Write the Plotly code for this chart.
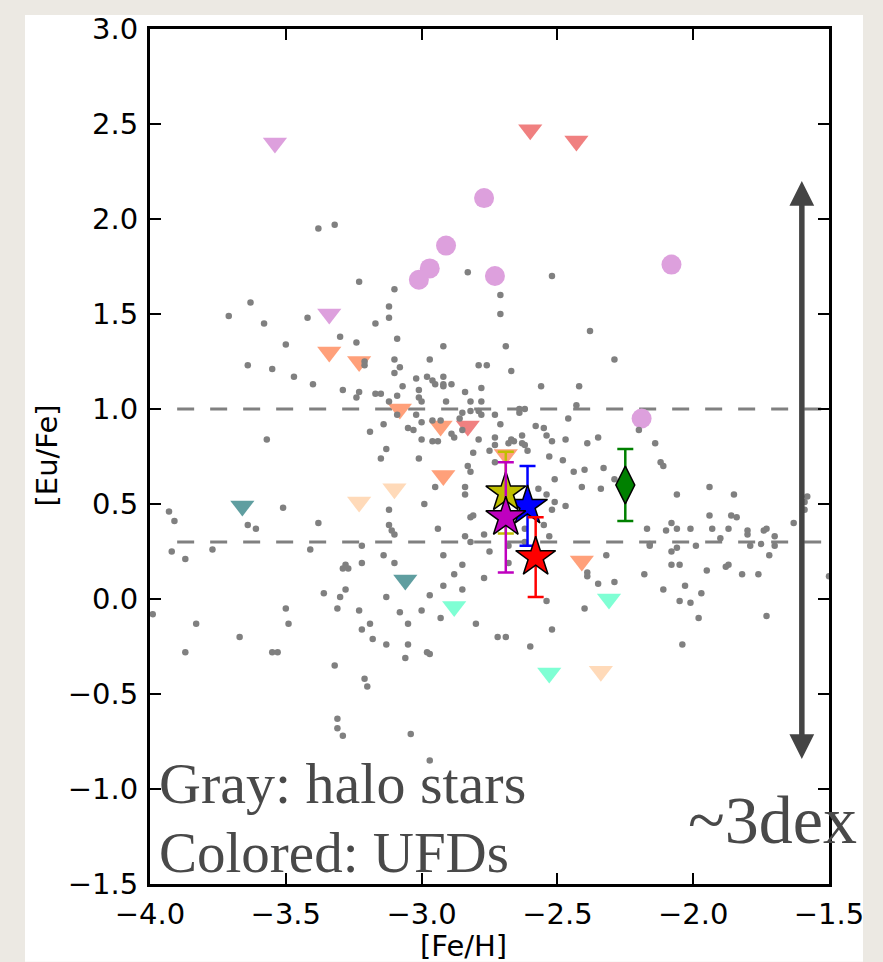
import plotly.graph_objects as go

# ---------------- data ----------------
# halo stars (gray)
halo_feh = [
    -3.38, -3.32, -3.23, -3.10, -2.83, -3.63, -3.71, -3.58, -3.42, -3.12,
    -3.12, -3.17, -3.30, -3.50, -3.24, -3.09, -2.92, -3.64, -3.55, -3.47,
    -3.40, -3.21, -3.21, -3.10, -3.08, -3.10, -2.97, -3.29, -3.23, -3.24,
    -3.17, -3.15, -3.09, -3.07, -3.02, -2.98, -2.96, -2.95, -2.92, -2.92,
    -2.92, -2.89, -3.01, -3.01, -3.00, -3.12, -2.91, -2.84, -2.82, -2.78,
    -2.78, -2.79, -2.76, -3.09, -3.02, -3.00, -2.96, -2.93, -2.85, -2.82,
    -2.79, -2.78, -2.86, -2.85, -3.14, -3.19, -3.05, -3.03, -2.89, -2.88,
    -3.00, -2.96, -2.94, -2.79, -3.57, -3.13, -3.15, -3.01, -2.81, -2.75,
    -2.83, -2.82, -2.95, -2.84,
    -2.52, -2.71, -2.71, -2.38, -2.69, -2.67, -2.29, -2.56, -2.42, -2.43,
    -2.64, -2.62, -2.64, -2.73, -2.46, -2.71, -2.58, -2.55, -2.54, -2.52,
    -2.47, -2.39, -2.35, -2.63, -2.63, -2.62, -2.61, -2.67, -2.66, -2.73,
    -2.73, -2.68, -2.73, -2.53, -2.48, -2.44, -2.40, -2.33, -2.51, -2.41,
    -2.34, -2.20, -2.14, -2.12, -2.11, -1.94, -2.29, -2.57,
    -3.93, -3.91, -3.92, -3.87, -3.77, -3.64, -3.61, -3.51, -3.38, -3.41,
    -3.99, -3.83, -3.87, -3.67, -3.50, -3.49, -3.55, -3.53, -3.36, -3.30,
    -3.28, -3.29, -3.28, -3.27, -3.31, -3.22, -3.22, -3.23, -3.22, -3.19,
    -3.18, -3.13, -3.13, -3.14, -3.10, -3.12, -3.12, -3.11, -3.10, -3.08,
    -3.05, -3.05, -3.06, -3.00, -2.97, -2.98, -2.97, -2.99, -2.94, -2.92,
    -2.92, -2.88, -2.85, -2.85, -2.93, -2.80, -2.84, -2.82, -2.81, -2.84,
    -2.82, -2.77, -2.77, -2.75, -3.32, -3.21, -3.20, -3.31, -3.31, -3.29,
    -3.04, -2.97,
    -2.51, -2.47, -2.52, -2.54, -2.55, -2.53, -2.62, -2.62, -2.68, -2.68,
    -2.32, -2.39, -2.39, -2.35, -2.29, -2.54, -2.40, -2.52, -2.72, -2.69,
    -2.60, -2.17, -2.10, -2.08, -2.06, -2.01, -2.06, -1.94, -1.93, -1.90,
    -1.87, -1.86, -1.84, -1.85, -1.80, -1.80, -1.74, -1.73, -1.70, -1.70,
    -1.72, -1.75, -1.79, -1.63, -2.16, -2.16, -2.08, -2.06, -1.99, -2.08,
    -2.05, -2.18, -1.95, -1.88, -1.87, -1.82, -1.76, -2.11, -2.03, -1.97,
    -2.05, -2.01, -1.98, -2.04, -1.73, -1.59, -1.58, -1.59, -1.50,
]
halo_eufe = [
    1.95, 1.97, 1.67, 1.63, 1.72, 1.56, 1.49, 1.45, 1.48, 1.54,
    1.48, 1.45, 1.38, 1.34, 1.35, 1.37, 1.33, 1.23, 1.21, 1.17,
    1.13, 1.25, 1.23, 1.26, 1.22, 1.19, 1.26, 1.10, 1.09, 1.06,
    1.08, 1.08, 1.07, 1.12, 1.16, 1.17, 1.15, 1.13, 1.17, 1.13,
    1.12, 1.13, 1.10, 1.06, 1.04, 1.04, 1.04, 1.09, 1.04, 1.11,
    1.04, 1.23, 1.23, 0.97, 0.97, 0.93, 0.94, 0.94, 0.98, 0.99,
    0.99, 0.97, 0.95, 0.89, 0.92, 0.88, 0.90, 0.89, 0.87, 0.85,
    0.84, 0.83, 0.83, 0.84, 0.84, 0.79, 0.74, 0.74, 0.77, 0.78,
    0.70, 0.67, 0.59, 0.59,
    1.70, 1.60, 1.50, 1.41, 1.33, 1.20, 1.26, 1.12, 1.12, 1.02,
    1.00, 1.00, 0.98, 0.97, 0.95, 0.92, 0.91, 0.90, 0.86, 0.83,
    0.84, 0.82, 0.85, 0.86, 0.82, 0.81, 0.78, 0.84, 0.83, 0.85,
    0.81, 0.82, 0.72, 0.75, 0.73, 0.67, 0.68, 0.69, 0.63, 0.59,
    0.58, 0.89, 0.82, 0.72, 0.70, 0.59, 0.63, 0.58,
    0.46, 0.41, 0.25, 0.21, 0.26, 0.39, 0.37, 0.48, 0.40, 0.26,
    -0.08, -0.13, -0.28, -0.20, -0.05, -0.13, -0.28, -0.28, 0.03, 0.01,
    0.05, 0.16, 0.18, 0.16, -0.05, 0.28, 0.19, -0.06, -0.16, -0.13,
    -0.21, 0.01, -0.24, 0.23, 0.19, 0.47, 0.39, 0.36, 0.34, -0.07,
    -0.13, -0.24, -0.31, -0.06, 0.02, -0.28, -0.29, 0.50, 0.37, 0.23,
    0.07, 0.13, 0.18, 0.05, -0.10, -0.13, 0.55, 0.43, 0.44, 0.33,
    0.30, 0.34, 0.11, 0.25, -0.35, -0.42, -0.46, -0.63, -0.68, -0.72,
    -0.71, -0.85,
    0.51, 0.49, 0.47, 0.55, 0.39, 0.33, 0.37, 0.30, 0.28, 0.19,
    0.23, 0.14, 0.12, 0.08, 0.09, -0.01, -0.05, -0.16, -0.20, -0.20,
    -0.25, 0.37, 0.36, 0.40, 0.37, 0.37, 0.55, 0.44, 0.37, 0.32,
    0.37, 0.44, 0.43, 0.55, 0.36, 0.34, 0.36, 0.37, 0.33, 0.28,
    0.23, 0.29, 0.28, 0.40, 0.29, 0.28, 0.25, 0.27, 0.28, 0.18,
    0.18, 0.13, 0.15, 0.17, 0.18, 0.13, 0.13, 0.05, 0.07, 0.03,
    -0.01, -0.02, -0.10, -0.24, -0.09, 0.51, 0.54, 0.47, 0.12,
]
n_halo = min(len(halo_feh), len(halo_eufe))

# UFD detections (plum circles)
ufd_det_feh = [-2.77, -2.91, -2.97, -3.01, -2.73, -2.08, -2.19]
ufd_det_eufe = [2.11, 1.86, 1.74, 1.68, 1.70, 1.76, 0.95]

# UFD upper limits (down triangles), grouped by galaxy colour
lim_plum_feh, lim_plum_eufe = [-3.54, -3.34], [2.40, 1.50]
lim_coral_feh, lim_coral_eufe = [-2.60, -2.43, -2.83], [2.47, 2.41, 0.91]
lim_salmon_feh = [-3.34, -3.23, -3.08, -2.93, -2.92, -2.69, -2.41]
lim_salmon_eufe = [1.30, 1.25, 1.00, 0.91, 0.65, 0.76, 0.20]
lim_peach_feh, lim_peach_eufe = [-3.23, -3.10, -2.34], [0.51, 0.58, -0.38]
lim_cadet_feh, lim_cadet_eufe = [-3.66, -3.06], [0.49, 0.10]
lim_aqua_feh, lim_aqua_eufe = [-2.88, -2.53, -2.31], [-0.04, -0.39, 0.00]

# highlighted stars with error bars (drawing order: blue, red, yellow, magenta)
star_names = ["blue", "red", "yellow", "magenta"]
star_feh = [-2.61, -2.58, -2.69, -2.69]
star_eufe = [0.49, 0.22, 0.56, 0.43]
star_err = [0.21, 0.21, 0.215, 0.29]
star_colors = ["#0000FF", "#FF0000", "#BFBF00", "#BF00BF"]

diamond_feh, diamond_eufe, diamond_err = [-2.25], [0.60], [0.19]

ref_levels = [1.0, 0.3]
ref_start, ref_end = -3.9, -1.5

arrow_x, arrow_top, arrow_bottom = -1.60, 2.20, -0.85

x_ticks = [-4.0, -3.5, -3.0, -2.5, -2.0, -1.5]
y_ticks = [-1.5, -1.0, -0.5, 0.0, 0.5, 1.0, 1.5, 2.0, 2.5, 3.0]

# ---------------- figure ----------------
fig = go.Figure()

for lvl in ref_levels:
    fig.add_trace(go.Scatter(
        x=[ref_start, ref_end], y=[lvl, lvl], mode="lines",
        line=dict(color="#808080", width=3, dash="17px,16px"),
        hoverinfo="skip", showlegend=False))

fig.add_trace(go.Scatter(
    x=ufd_det_feh, y=ufd_det_eufe, mode="markers",
    marker=dict(symbol="circle", size=20, color="#DDA0DD", line=dict(width=0)),
    showlegend=False))

tri_groups = [
    (lim_plum_feh, lim_plum_eufe, "#DDA0DD"),
    (lim_coral_feh, lim_coral_eufe, "#F08080"),
    (lim_salmon_feh, lim_salmon_eufe, "#FFA07A"),
    (lim_peach_feh, lim_peach_eufe, "#FFDAB9"),
    (lim_cadet_feh, lim_cadet_eufe, "#5F9EA0"),
    (lim_aqua_feh, lim_aqua_eufe, "#7FFFD4"),
]
for fx, fy, col in tri_groups:
    fig.add_trace(go.Scatter(
        x=fx, y=fy, mode="markers",
        marker=dict(symbol="triangle-down", size=21, color=col, line=dict(width=0)),
        showlegend=False))

fig.add_trace(go.Scatter(
    x=halo_feh[:n_halo], y=halo_eufe[:n_halo], mode="markers",
    marker=dict(symbol="circle", size=6.5, color="#808080", line=dict(width=0)),
    showlegend=False))

fig.add_trace(go.Scatter(
    x=diamond_feh, y=diamond_eufe, mode="markers",
    marker=dict(symbol="diamond-tall", size=27, color="#008000",
                line=dict(color="black", width=1.5)),
    error_y=dict(type="data", array=diamond_err, color="#008000",
                 thickness=2.5, width=8),
    showlegend=False))

for name, fx, fy, er, col in zip(star_names, star_feh, star_eufe, star_err, star_colors):
    fig.add_trace(go.Scatter(
        x=[fx], y=[fy], mode="markers", name=name,
        marker=dict(symbol="star", size=30, color=col,
                    line=dict(color="black", width=1.5)),
        error_y=dict(type="data", array=[er], color=col, thickness=2.5, width=8),
        showlegend=False))

# double-headed arrow
fig.add_annotation(
    x=arrow_x, y=arrow_top, ax=arrow_x, ay=arrow_bottom,
    xref="x", yref="y", axref="x", ayref="y",
    text="", showarrow=True, arrowside="end+start",
    arrowhead=2, startarrowhead=2, arrowsize=0.9, startarrowsize=0.9,
    arrowwidth=5.5, arrowcolor="#444444", standoff=0, startstandoff=0)

serif = "Liberation Serif, Times New Roman, serif"
txt_col = "#494949"
fig.add_annotation(x=(157 - 150) / 679, y=(884 - 783) / 858, xref="paper", yref="paper",
                   text="Gray: halo stars", showarrow=False, xanchor="left", yanchor="middle",
                   font=dict(family=serif, size=58, color=txt_col))
fig.add_annotation(x=(157 - 150) / 679, y=(884 - 852) / 858, xref="paper", yref="paper",
                   text="Colored: UFDs", showarrow=False, xanchor="left", yanchor="middle",
                   font=dict(family=serif, size=57, color=txt_col))
fig.add_annotation(x=(686 - 150) / 679, y=(884 - 820) / 858, xref="paper", yref="paper",
                   text="~3dex", showarrow=False, xanchor="left", yanchor="middle",
                   font=dict(family=serif, size=68, color=txt_col))

# axis titles
fig.add_annotation(x=(47 - 150) / 679, y=(884 - 454) / 858, xref="paper", yref="paper",
                   text="[Eu/Fe]", showarrow=False, textangle=-90,
                   xanchor="center", yanchor="middle",
                   font=dict(family="DejaVu Sans", size=29, color="black"))
fig.add_annotation(x=(463 - 150) / 679, y=(884 - 946) / 858, xref="paper", yref="paper",
                   text="[Fe/H]", showarrow=False,
                   xanchor="center", yanchor="middle",
                   font=dict(family="DejaVu Sans", size=29, color="black"))

# white slide panel
fig.add_shape(type="rect", xref="paper", yref="paper",
              x0=(25 - 150) / 679, x1=(863 - 150) / 679,
              y0=(884 - 962) / 858, y1=(884 - 12) / 858,
              fillcolor="white", line=dict(width=0), layer="below")

axis_common = dict(
    showline=True, linewidth=3, linecolor="black", mirror="ticks",
    ticks="inside", ticklen=11, tickwidth=1.5, tickcolor="black",
    showgrid=False, zeroline=False, tickformat=".1f",
    tickfont=dict(family="DejaVu Sans", size=29, color="black"),
)
fig.update_xaxes(range=[-4.0, -1.5], tickvals=x_ticks, ticklabelstandoff=2, **axis_common)
fig.update_yaxes(range=[-1.5, 3.0], tickvals=y_ticks, ticklabelstandoff=3, **axis_common)

fig.update_layout(
    width=883, height=962, autosize=False,
    margin=dict(l=150, r=54, t=26, b=78, pad=0),
    paper_bgcolor="#ECE9E3", plot_bgcolor="white",
    showlegend=False,
)

fig.write_html("out.html")
